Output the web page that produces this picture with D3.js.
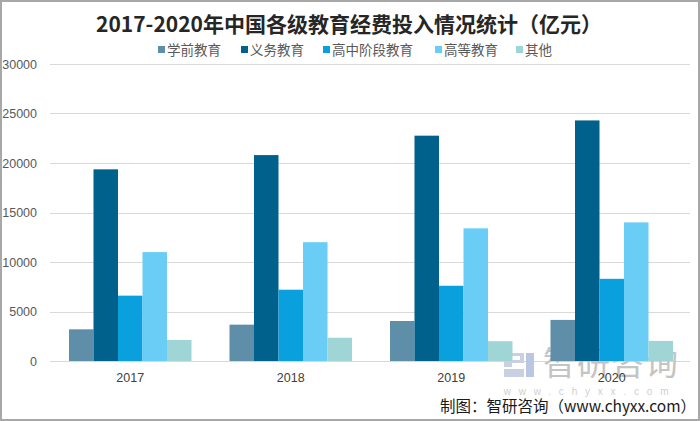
<!DOCTYPE html>
<html><head><meta charset="utf-8">
<script src="https://cdn.jsdelivr.net/npm/d3@7"></script>
<style>
html,body{margin:0;padding:0;background:#fff;}
svg{display:block;}
</style></head>
<body>
<svg id="chart" width="700" height="421"></svg>
<script>
const years = ["2017", "2018", "2019", "2020"];
const seriesNames = ["学前教育", "义务教育", "高中阶段教育", "高等教育", "其他"];
const preschool = [3200, 3670, 4040, 4150];
const compulsory = [19360, 20800, 22760, 24300];
const highSchool = [6600, 7200, 7600, 8300];
const higher = [11000, 12000, 13400, 14000];
const others = [2120, 2350, 2000, 2030];
const yTicks = [0, 5000, 10000, 15000, 20000, 25000, 30000];
const colors = ["#5e8ea8", "#00618c", "#0a9fdd", "#69cdf6", "#a0d5d6"];

const seriesValues = [preschool, compulsory, highSchool, higher, others];
const svg = d3.select("#chart");
const W = 700, H = 421;
const CJK = "'Noto Sans CJK SC','Noto Sans',sans-serif";
const LAT = "'Liberation Sans','DejaVu Sans',sans-serif";

// frame
svg.append("rect").attr("x", 1).attr("y", 1).attr("width", W - 2).attr("height", H - 2)
  .attr("fill", "#fff").attr("stroke", "#a8a8a8").attr("stroke-width", 2);

const x0 = d3.scaleBand().domain(years).range([50, 692]).padding(0);
const groupW = 122.5;
const x1 = d3.scaleBand().domain(seriesNames).range([0, groupW]).padding(0);
const y = d3.scaleLinear().domain([0, 30000]).range([361, 64]);

// gridlines
svg.append("g").selectAll("line").data(yTicks).join("line")
  .attr("x1", 50).attr("x2", 690)
  .attr("y1", d => Math.round(y(d)) + 0.5).attr("y2", d => Math.round(y(d)) + 0.5)
  .attr("stroke", "#d9d9d9").attr("stroke-width", 1);

// y axis labels
const yAxis = d3.axisLeft(y).tickValues(yTicks).tickSize(0).tickPadding(0).tickFormat(d3.format("d"));
const yg = svg.append("g").attr("transform", "translate(37,0)").call(yAxis);
yg.select(".domain").remove();
yg.selectAll("text").attr("fill", "#595959").style("font-family", LAT).style("font-size", "12.5px");

// watermark
const wm = svg.append("g");
wm.append("text").attr("x", 611).attr("y", 375).attr("text-anchor", "middle")
  .attr("fill", "#c4c4c4").style("font-family", CJK).style("font-size", "33px").style("letter-spacing", "1px").text("智研咨询");
wm.append("text").attr("x", 590).attr("y", 395).attr("text-anchor", "middle")
  .attr("fill", "#cfcfcf").style("font-family", LAT).style("font-size", "10px").style("letter-spacing", "7.8px").text("www.chyxx.com");
// logo mark
wm.append("path").attr("d", "M504,353 h20 v10 h-12 v4 h-8 z M508,356 h12 v4 h-12 z")
  .attr("fill", "#c9d0e2").attr("fill-rule", "evenodd");
wm.append("rect").attr("x", 526).attr("y", 353).attr("width", 8).attr("height", 24).attr("fill", "#b9c6e4");
wm.append("rect").attr("x", 504).attr("y", 369).attr("width", 20).attr("height", 8).attr("fill", "#c9d0e2");

// bars
const groups = svg.append("g").selectAll("g").data(years).join("g")
  .attr("transform", d => `translate(${x0(d) + (x0.bandwidth() - groupW) / 2},0)`);
groups.selectAll("rect").data((d, i) => seriesNames.map((s, j) => ({ s, j, v: seriesValues[j][i] })))
  .join("rect")
  .attr("x", d => x1(d.s)).attr("width", x1.bandwidth())
  .attr("y", d => y(d.v)).attr("height", d => y(0) - y(d.v))
  .attr("fill", d => colors[d.j]);

// x axis labels
const xAxis = d3.axisBottom(x0).tickSize(0).tickPadding(0);
const xg = svg.append("g").attr("transform", "translate(0,373)").call(xAxis);
xg.select(".domain").remove();
xg.selectAll("text").attr("fill", "#404040").attr("dy", "0.71em").style("font-family", LAT).style("font-size", "12.5px");

// title
svg.append("text").attr("x", 349).attr("y", 32).attr("text-anchor", "middle")
  .attr("fill", "#262626").style("font-family", CJK).style("font-weight", "bold").style("font-size", "21px")
  .text("2017-2020年中国各级教育经费投入情况统计（亿元）");

// legend
const legendX = [158, 241, 323, 435, 516];
const lg = svg.append("g").selectAll("g").data(seriesNames).join("g")
  .attr("transform", (d, i) => `translate(${legendX[i]},50)`);
lg.append("rect").attr("x", 0).attr("y", -4).attr("width", 7).attr("height", 7).attr("fill", (d, i) => colors[i]);
lg.append("text").attr("x", 9).attr("y", 0).attr("dy", "0.36em").attr("fill", "#595959")
  .style("font-family", CJK).style("font-size", "13.5px").text(d => d);

// source
svg.append("text").attr("x", 696).attr("y", 412).attr("text-anchor", "end")
  .attr("fill", "#1a1a1a").style("font-family", CJK).style("font-size", "15.5px")
  .text("制图：智研咨询（www.chyxx.com）");
</script>
</body></html>
